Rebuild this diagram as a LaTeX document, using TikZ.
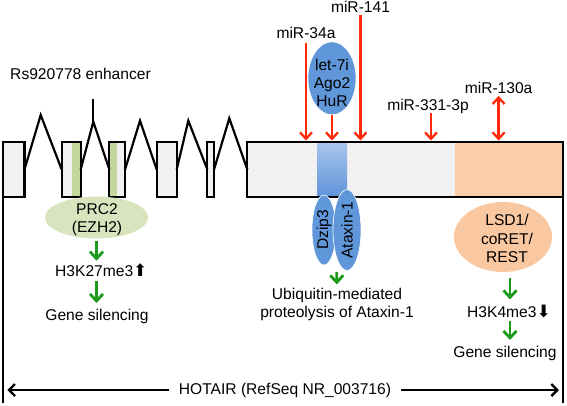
\documentclass[tikz,border=0pt]{standalone}
\usepackage{fontspec}
\setmainfont{Liberation Sans}
\newfontfamily\arrowfont{DejaVu Sans}
\usetikzlibrary{shapes.geometric, arrows.meta, positioning}

\definecolor{exongray}{HTML}{F1F1F1}
\definecolor{prcgreen}{HTML}{D7E4BD}
\definecolor{stripegreen}{HTML}{C3D69B}
\definecolor{lsdpeach}{HTML}{FAC8A0}
\definecolor{boxpeach}{HTML}{FBCEAA}
\definecolor{blobblue}{HTML}{6097DA}
\definecolor{stripetop}{HTML}{A9C6EE}
\definecolor{stripebot}{HTML}{5F93DA}
\definecolor{mirred}{HTML}{FF2A0A}
\definecolor{effgreen}{HTML}{1B9A1B}

\tikzset{
    exon/.style={
        rectangle,
        fill=exongray,
        inner sep=0pt,
        outer sep=0pt,
        minimum height=55pt
    },
    exline/.style={
        draw=black,
        line width=2.2pt
    },
    intron/.style={
        draw=black,
        line width=2.2pt,
        line join=miter
    },
    txt/.style={
        font=\fontsize{15.6}{18.3}\selectfont,
        inner sep=0pt,
        align=center
    },
    blob/.style={
        ellipse,
        inner sep=0pt,
        draw=none
    },
    protein/.style={
        ellipse,
        inner sep=0pt,
        fill=blobblue,
        draw=white,
        line width=0.6pt,
        font=\fontsize{15.6}{18.3}\selectfont
    },
    mirarrow/.style={
        draw=mirred,
        line width=2.3pt,
        -{Straight Barb[length=6.5pt,width=12pt]}
    },
    mirboth/.style={
        draw=mirred,
        line width=2.3pt,
        {Straight Barb[length=6.5pt,width=12pt]}-{Straight Barb[length=6.5pt,width=12pt]}
    },
    effect/.style={
        draw=effgreen,
        line width=2.8pt,
        -{Straight Barb[length=7pt,width=13pt]}
    },
    spanarrow/.style={
        draw=black,
        line width=2.4pt,
        -{Straight Barb[length=6pt,width=12pt]}
    }
}

\begin{document}
\begin{tikzpicture}[x=1pt, y=-1pt]
\useasboundingbox (0,0) rectangle (567,405);

% Exons
\node[exon, minimum width=21.5pt] (ex1) at (13.75,169.5) {};
\node[exon, minimum width=19pt] (ex2) at (71.2,169.5) {};
\node[exon, minimum width=15.7pt] (ex3) at (117.2,169.5) {};
\node[exon, minimum width=20pt] (ex4) at (166.7,169.5) {};
\node[exon, minimum width=6.7pt] (ex5) at (210.7,169.5) {};
\node[exon, minimum width=315.7pt] (ex6) at (405.2,169.5) {};

\fill[stripegreen] (71.7,142) rectangle (80.7,197);
\fill[stripegreen] (109.3,142) rectangle (117.3,197);
\fill[boxpeach] (455,142) rectangle (ex6.south east);
\shade[top color=stripetop, bottom color=stripebot] (317,142) rectangle (347,197);

\foreach \e in {ex1,ex2,ex3,ex4,ex5,ex6}
    \draw[exline] (\e.north west) rectangle (\e.south east);

% Introns
\coordinate (p1) at (40.7,115);
\coordinate (p2) at (93.3,121.7);
\coordinate (p3) at (140,120.7);
\coordinate (p4) at (188.3,120.7);
\coordinate (p5) at (229.3,118.3);
\coordinate (enh) at (93.3,99);

\draw[intron] (ex1.east) -- (p1) -- (ex2.west);
\draw[intron] (ex2.east) -- (p2) -- (ex3.west);
\draw[intron] (ex3.east) -- (p3) -- (ex4.west);
\draw[intron] (ex4.east) -- (p4) -- (ex5.west);
\draw[intron] (ex5.east) -- (p5) -- (ex6.west);
\draw[intron] (p2) -- (enh);

\node[txt, anchor=base] (enhtxt) at (80.5,79) {Rs920778 enhancer};

% miRNAs and binding proteins
\node[txt, anchor=base] (mir34) at (306,38.5) {miR-34a};
\node[txt, anchor=base] (mir141) at (360.5,12.5) {miR-141};
\node[txt, anchor=base] (mir331) at (428,110) {miR-331-3p};
\node[txt, anchor=base] (mir130) at (498.6,93) {miR-130a};
\node[protein, minimum width=48pt, minimum height=73pt] (let7) at (332,78.3) {};
\node[txt] (let7txt) at (332,83) {let-7i\\Ago2\\HuR};

\draw[mirarrow, shorten <=4pt, shorten >=1.5pt] (mir34) -- (mir34 |- ex6.north);
\draw[mirarrow, shorten <=2.5pt, shorten >=1.5pt] (mir141) -- (mir141 |- ex6.north);
\draw[mirarrow, shorten >=1.5pt] (let7) -- (let7 |- ex6.north);
\draw[mirarrow, shorten >=1.5pt] ([xshift=3pt]mir331.south) -- ([xshift=3pt]mir331.south |- ex6.north);
\draw[mirboth, shorten <=2.5pt, shorten >=1.5pt] (mir130) -- (mir130 |- ex6.north);

% PRC2 branch
\node[blob, fill=prcgreen, minimum width=103pt, minimum height=42pt] (prc2) at (96.5,217.5) {};
\node[txt] (prc2txt) at (97,219.5) {PRC2\\(EZH2)};
\node[txt, anchor=base west] (h3k27) at (55,276.7) {H3K27me3{\arrowfont\fontsize{17}{17}\selectfont ⬆}};
\node[txt, anchor=base] (gs1) at (97,320.5) {Gene silencing};

\draw[effect, shorten <=2pt, shorten >=3pt] (prc2.south) -- (prc2.south |- h3k27.north);
\draw[effect, shorten <=4pt, shorten >=6pt] (prc2.south |- h3k27.south) -- (prc2.south |- gs1.north);

% Dzip3 / Ataxin-1 branch
\node[protein, rotate=90, minimum width=70pt, minimum height=24pt] (dzip) at (324,230) {Dzip3};
\node[protein, rotate=90, minimum width=68pt, minimum height=28pt] (atx) at (347,230) {Ataxin-1};
\node[txt] (ubq) at (337,304.5) {Ubiquitin-mediated\\proteolysis of Ataxin-1};
\coordinate (ubqin) at (336.7,272);
\draw[effect, shorten >=3.5pt] (ubqin) -- (ubq.north);

% LSD1 branch
\node[blob, fill=lsdpeach, minimum width=98pt, minimum height=70pt] (lsd1) at (503,237) {};
\node[txt] (lsd1txt) at (507,238.5) {LSD1/\\coRET/\\REST};
\node[txt, anchor=base west] (h3k4) at (467,317) {H3K4me3{\arrowfont\fontsize{17}{17}\selectfont ⬇}};
\node[txt, anchor=base] (gs2) at (505,357) {Gene silencing};

\draw[effect, shorten <=6pt, shorten >=5pt] ([xshift=7pt]lsd1.south) -- ([xshift=7pt]lsd1.south |- h3k4.north);
\draw[effect, shorten <=3pt, shorten >=5.5pt] ([xshift=7pt]lsd1.south |- h3k4.south) -- ([xshift=7pt]lsd1.south |- gs2.north);

% HOTAIR span
\coordinate (lbot) at (3,403);
\coordinate (rbot) at (563,403);
\draw[exline, line width=2.4pt] (ex1.south west) -- (lbot);
\draw[exline, line width=2.4pt] (ex6.south east) -- (ex6.south east |- rbot);

\node[txt, inner xsep=10pt] (hotair) at (285,390) {HOTAIR (RefSeq NR\_003716)};
\draw[spanarrow, shorten >=4.3pt] (hotair.west) -- (hotair.west -| lbot);
\draw[spanarrow, shorten >=4pt] (hotair.east) -- (hotair.east -| rbot);

\end{tikzpicture}
\end{document}
